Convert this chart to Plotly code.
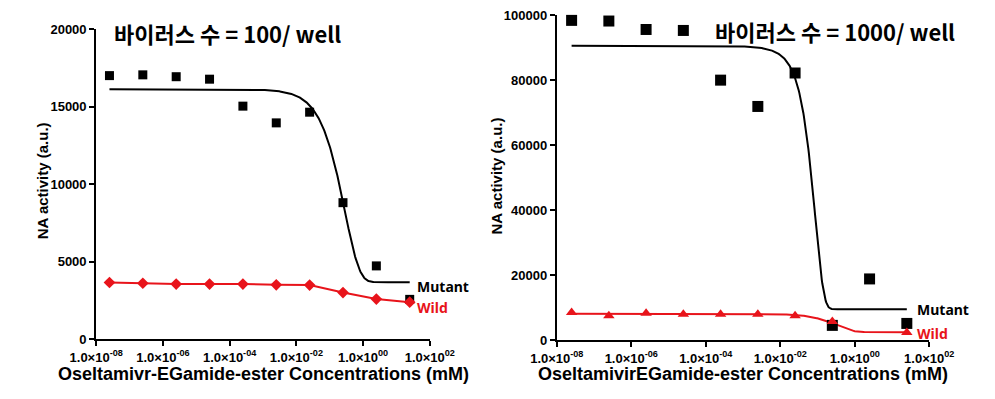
import numpy as np
import plotly.graph_objects as go

W, H = 995, 399

# Inhibitor concentrations (mM)
conc = [2.5e-8, 2.5e-7, 2.5e-6, 2.5e-5, 2.5e-4, 2.5e-3, 2.5e-2, 2.5e-1, 2.5, 25.0]

# NA activity (a.u.), virus = 100 / well
mutant_100 = [17000, 17050, 16930, 16770, 15030, 13950, 14640, 8800, 4720, 2560]
wild_100 = [3650, 3600, 3550, 3550, 3550, 3500, 3480, 3000, 2580, 2380]

# NA activity (a.u.), virus = 1000 / well
mutant_1000 = [98400, 98200, 95600, 95300, 80000, 71900, 82200, 4500, 18800, 5100]
wild_1000 = [8500, 7500, 8200, 7900, 7900, 7900, 7500, 5700, None, 2300]

# Decay fit parameters: y = bottom + (top - bottom) * exp(-(k1*x + k2*x^2))
fit_mutant_100 = dict(top=16120, bottom=3670, k1=3.5, k2=0.0)
fit_mutant_1000 = dict(top=90600, bottom=9500, k1=2.5, k2=110.0)
fit_wild_1000 = dict(top=8100, bottom=2400, k1=2.9, k2=0.0)

x_tickvals = [1e-8, 1e-6, 1e-4, 1e-2, 1e0, 1e2]
x_ticktext = ["1.0×10<sup>-08</sup>", "1.0×10<sup>-06</sup>", "1.0×10<sup>-04</sup>",
              "1.0×10<sup>-02</sup>", "1.0×10<sup>00</sup>", "1.0×10<sup>02</sup>"]

RED = "#e8141b"
BLACK = "#000000"
AX_FONT = "Liberation Sans"
KR_FONT = "Noto Sans CJK KR"
LBL_FONT = "Noto Sans"


def decay_fit(x, top, bottom, k1, k2):
    return bottom + (top - bottom) * np.exp(-(k1 * x + k2 * x ** 2))


x_fit = np.logspace(np.log10(conc[0]), np.log10(conc[-1]), 600)


def px(xp):
    return xp / W


def py(yp):
    return 1 - yp / H


fig = go.Figure()

# ---- left panel: 100 / well ----
fig.add_trace(go.Scatter(x=x_fit, y=decay_fit(x_fit, **fit_mutant_100), mode="lines",
                         line=dict(color=BLACK, width=2), xaxis="x", yaxis="y",
                         showlegend=False, hoverinfo="skip"))
fig.add_trace(go.Scatter(x=conc, y=mutant_100, mode="markers",
                         marker=dict(symbol="square", size=9, color=BLACK),
                         xaxis="x", yaxis="y", showlegend=False, cliponaxis=False))
fig.add_trace(go.Scatter(x=conc, y=wild_100, mode="lines+markers",
                         line=dict(color=RED, width=2),
                         marker=dict(symbol="diamond", size=9, color=RED),
                         xaxis="x", yaxis="y", showlegend=False, cliponaxis=False))

# ---- right panel: 1000 / well ----
fig.add_trace(go.Scatter(x=x_fit, y=decay_fit(x_fit, **fit_mutant_1000), mode="lines",
                         line=dict(color=BLACK, width=2), xaxis="x2", yaxis="y2",
                         showlegend=False, hoverinfo="skip"))
fig.add_trace(go.Scatter(x=x_fit, y=decay_fit(x_fit, **fit_wild_1000), mode="lines",
                         line=dict(color=RED, width=2), xaxis="x2", yaxis="y2",
                         showlegend=False, hoverinfo="skip"))
fig.add_trace(go.Scatter(x=conc, y=mutant_1000, mode="markers",
                         marker=dict(symbol="square", size=11, color=BLACK),
                         xaxis="x2", yaxis="y2", showlegend=False, cliponaxis=False))
fig.add_trace(go.Scatter(x=conc, y=wild_1000, mode="markers",
                         marker=dict(symbol="triangle-up", size=10, color=RED),
                         xaxis="x2", yaxis="y2", showlegend=False, cliponaxis=False))

tickfont = dict(family=AX_FONT, size=13, color=BLACK, weight="bold")
common_x = dict(type="log", range=[-8, 2], tickvals=x_tickvals, ticktext=x_ticktext,
                ticks="outside", ticklen=5, tickwidth=2, tickcolor=BLACK,
                showline=True, linewidth=2, linecolor=BLACK, showgrid=False,
                zeroline=False, tickfont=tickfont)
common_y = dict(ticks="outside", ticklen=5, tickwidth=2, tickcolor=BLACK,
                showline=True, linewidth=2, linecolor=BLACK, showgrid=False,
                zeroline=False, tickfont=tickfont, tickformat="d")

fig.update_layout(
    width=W, height=H, margin=dict(l=0, r=0, t=0, b=0),
    paper_bgcolor="white", plot_bgcolor="white",
    font=dict(family=AX_FONT),
    xaxis=dict(domain=[px(73), px(425)], anchor="y", **common_x),
    yaxis=dict(domain=[py(345), py(23)], anchor="x", range=[0, 20000], dtick=5000, **common_y),
    xaxis2=dict(domain=[px(559), px(952)], anchor="y2", **common_x),
    yaxis2=dict(domain=[py(346), py(8.5)], anchor="x2", range=[0, 100000], dtick=20000, **common_y),
)

ann = []
# panel titles
title_font = dict(family=KR_FONT, size=22, color=BLACK, weight="bold")
ann.append(dict(text="바이러스 수 = 100/ well", x=px(212), y=py(27), xref="paper", yref="paper",
                xanchor="center", yanchor="middle", showarrow=False, font=title_font))
ann.append(dict(text="바이러스 수 = 1000/ well", x=px(853), y=py(25), xref="paper", yref="paper",
                xanchor="center", yanchor="middle", showarrow=False, font=title_font))
# axis titles
for xc, yc in [(16, 181), (495, 176)]:
    ann.append(dict(text="NA activity (a.u.)", x=px(xc), y=py(yc), xref="paper", yref="paper",
                    xanchor="center", yanchor="middle", textangle=-90, showarrow=False,
                    font=dict(family=AX_FONT, size=15, color=BLACK, weight="bold")))
ann.append(dict(text="Oseltamivr-EGamide-ester Concentrations (mM)", x=px(250), y=py(381),
                xref="paper", yref="paper", xanchor="center", yanchor="middle", showarrow=False,
                font=dict(family=AX_FONT, size=18, color=BLACK, weight="bold")))
ann.append(dict(text="OseltamivirEGamide-ester Concentrations (mM)", x=px(755), y=py(381),
                xref="paper", yref="paper", xanchor="center", yanchor="middle", showarrow=False,
                font=dict(family=AX_FONT, size=18, color=BLACK, weight="bold")))

# series labels at the end of each curve
lbl_black = dict(family=LBL_FONT, size=14, color=BLACK, weight="bold")
lbl_red = dict(family=LBL_FONT, size=14, color=RED, weight="bold")
xlast = np.log10(conc[-1])
ann.append(dict(text="Mutant", x=xlast, y=fit_mutant_100["bottom"], xref="x", yref="y",
                xanchor="center", yanchor="middle", xshift=33, yshift=-4, showarrow=False, font=lbl_black))
ann.append(dict(text="Wild", x=xlast, y=wild_100[-1], xref="x", yref="y",
                xanchor="center", yanchor="middle", xshift=23, yshift=-5, showarrow=False, font=lbl_red))
ann.append(dict(text="Mutant", x=xlast, y=fit_mutant_1000["bottom"], xref="x2", yref="y2",
                xanchor="center", yanchor="middle", xshift=36, yshift=0, showarrow=False, font=lbl_black))
ann.append(dict(text="Wild", x=xlast, y=fit_wild_1000["bottom"], xref="x2", yref="y2",
                xanchor="center", yanchor="middle", xshift=26, yshift=-1, showarrow=False, font=lbl_red))

fig.update_layout(annotations=ann)
fig.write_html("out.html")
